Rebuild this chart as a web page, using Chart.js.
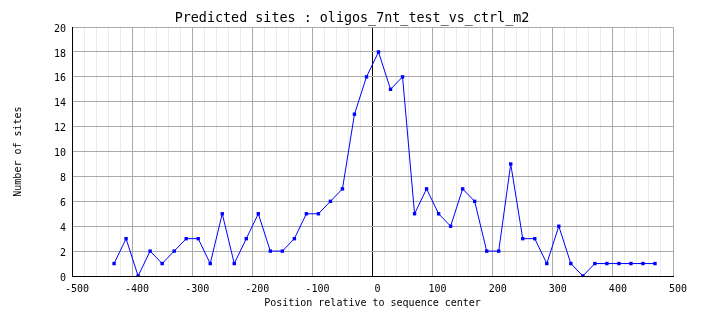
<!DOCTYPE html>
<html>
<head>
<meta charset="utf-8">
<script src="https://cdn.jsdelivr.net/npm/chart.js@4"></script>
<style>
  html, body { margin: 0; padding: 0; background: #fff; }
  #wrap { width: 704px; height: 328px; }
</style>
</head>
<body>
<div id="wrap"><canvas id="sites-chart"></canvas></div>
<script>
const title = 'Predicted sites : oligos_7nt_test_vs_ctrl_m2';
const xTitle = 'Position relative to sequence center';
const yTitle = 'Number of sites';

// window centers and site counts
const positions = [
    -430, -410, -390, -370, -350, -330, -310, -290, -270, -250,
    -230, -210, -190, -170, -150, -130, -110, -90, -70, -50,
    -30, -10, 10, 30, 50, 70, 90, 110, 130, 150,
    170, 190, 210, 230, 250, 270, 290, 310, 330, 350,
    370, 390, 410, 430, 450, 470,
];
const counts = [
    1, 3, 0, 2, 1, 2, 3, 3, 1, 5,
    1, 3, 5, 2, 2, 3, 5, 5, 6, 7,
    13, 16, 18, 15, 16, 5, 7, 5, 4, 7,
    6, 2, 2, 9, 3, 3, 1, 4, 1, 0,
    1, 1, 1, 1, 1, 1,
];

const xRange = [-500, 500];
const yRange = [0, 20];

const font = 'DejaVu Sans Mono';
const points = positions.map((x, i) => ({ x, y: counts[i] }));

new Chart(document.getElementById('sites-chart'), {
    type: 'line',
    data: {
        datasets: [{
            data: points,
            borderColor: '#0000ff',
            backgroundColor: '#0000ff',
            borderWidth: 1,
            pointStyle: 'rect',
            pointRadius: 2.4,
            pointBorderWidth: 0,
            tension: 0,
        }],
    },
    options: {
        responsive: true,
        maintainAspectRatio: false,
        animation: false,
        events: [],
        layout: { padding: 0 },
        plugins: {
            legend: { display: false },
            tooltip: { enabled: false },
            title: {
                display: true,
                text: title,
                color: '#000',
                font: { family: font, size: 13.4, weight: 'normal' },
                padding: { top: 10, bottom: 1 },
            },
        },
        scales: {
            x: {
                type: 'linear',
                min: xRange[0],
                max: xRange[1],
                afterFit(scale) { scale.height = 52; },
                afterBuildTicks(scale) {
                    // one tick every 20 so the light minor grid gets drawn too
                    const ticks = [];
                    for (let v = xRange[0]; v <= xRange[1]; v += 20) ticks.push({ value: v });
                    scale.ticks = ticks;
                },
                border: { color: '#000', width: 1 },
                grid: {
                    drawTicks: false,
                    color(ctx) {
                        const v = ctx.tick && ctx.tick.value;
                        if (v === 0) return '#000';
                        return v % 100 === 0 ? '#aaaaaa' : '#ebebeb';
                    },
                },
                ticks: {
                    autoSkip: false,
                    maxRotation: 0,
                    padding: 7,
                    labelOffset: 5,
                    color: '#000',
                    font: { family: font, size: 10 },
                    callback: v => (v % 100 === 0 ? String(v) : ''),
                },
                title: {
                    display: true,
                    text: xTitle,
                    color: '#000',
                    font: { family: font, size: 10 },
                    padding: { top: 0, bottom: 19 },
                },
            },
            y: {
                min: yRange[0],
                max: yRange[1],
                afterFit(scale) { scale.width = 72; },
                border: { color: '#000', width: 1 },
                grid: { drawTicks: false, color: '#aaaaaa' },
                ticks: {
                    stepSize: 2,
                    padding: 6,
                    labelOffset: 2,
                    color: '#000',
                    font: { family: font, size: 10 },
                },
                title: {
                    display: true,
                    text: yTitle,
                    color: '#000',
                    font: { family: font, size: 10 },
                    padding: { top: 12, bottom: 0 },
                },
            },
            // empty right margin, keeps the title centred on the whole canvas
            yRight: {
                position: 'right',
                min: yRange[0],
                max: yRange[1],
                afterFit(scale) { scale.width = 31; },
                border: { display: false },
                grid: { display: false },
                ticks: { display: false },
            },
        },
    },
});
</script>
</body>
</html>
